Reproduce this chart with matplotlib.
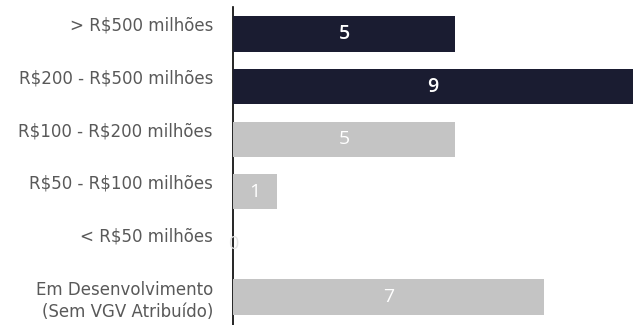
import matplotlib
matplotlib.use("Agg")
import matplotlib.pyplot as plt
import matplotlib.transforms as mtransforms

# Data
categories = ["> R$500 milhões", "R$200 - R$500 milhões", "R$100 - R$200 milhões",
              "R$50 - R$100 milhões", "< R$50 milhões",
              "Em Desenvolvimento\n(Sem VGV Atribuído)"]
values = [5, 9, 5, 1, 0, 7]
highlight = [True, True, False, False, False, False]

dark = "#1a1c31"
gray = "#c4c4c4"

plt.rcParams['font.family'] = ['Open Sans', 'DejaVu Sans']
plt.rcParams['text.parse_math'] = False

fig = plt.figure(figsize=(6.37, 3.25), dpi=100)
ax = fig.add_axes([233 / 637, 0, 400 / 637, 318 / 325])

pos = list(range(len(categories)))
colors = [dark if h else gray for h in highlight]
ax.barh(pos, values, height=0.67, color=colors)

for p, v, h in zip(pos, values, highlight):
    if v == 0:
        ax.text(0, p, "0", ha="center", va="center", fontsize=13, color="#e4e4e4")
    else:
        ax.text(v / 2, p, str(v), ha="center", va="center", fontsize=14,
                color="white", fontweight="semibold" if h else "normal")

ax.set_xlim(0, 9)
ax.set_ylim(5.53, -0.513)
ax.set_yticks(pos)
ax.set_yticklabels(categories, fontsize=12, color="#595959", linespacing=1.25,
                   family="DejaVu Sans")
ax.tick_params(axis="y", length=0, pad=14.4)
# single-line labels sit a bit above the bar centre, as in the source
shift = mtransforms.ScaledTranslation(0, 10 / 100, fig.dpi_scale_trans)
for lab in ax.get_yticklabels():
    if "\n" not in lab.get_text():
        lab.set_transform(lab.get_transform() + shift)
ax.set_xticks([])
for s in ["top", "right", "bottom"]:
    ax.spines[s].set_visible(False)
ax.spines["left"].set_color("black")
ax.spines["left"].set_linewidth(1.2)
ax.spines["left"].set_zorder(0)

fig.savefig("out.png", dpi=100)
